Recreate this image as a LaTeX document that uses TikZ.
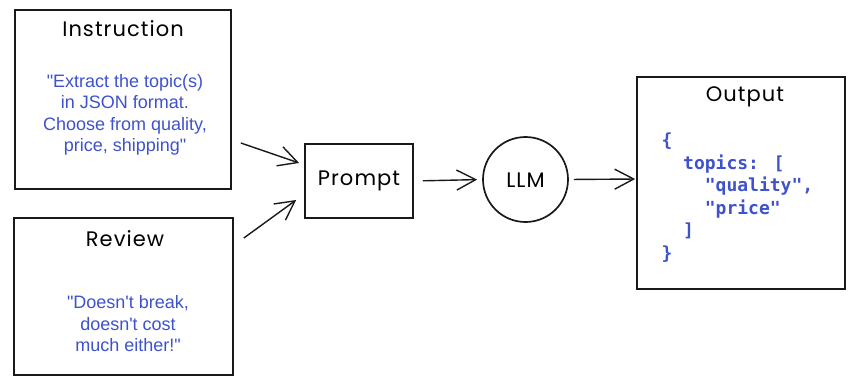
\documentclass[tikz,border=0pt]{standalone}
\usepackage{fontspec}
\setmainfont{Liberation Sans}[Ligatures=TeXOff]
\newfontfamily\sketchfont{Poppins}[LetterSpace=5]
\newfontfamily\codefont{DejaVu Sans Mono}[Ligatures=TeXOff]
\usetikzlibrary{arrows.meta}
\definecolor{textblue}{RGB}{62,82,204}
\definecolor{inkline}{RGB}{25,25,25}
\tikzset{
  box/.style={draw=inkline, line width=1.7pt, inner sep=0pt},
  title/.style={font=\sketchfont\fontsize{21}{23}\selectfont, text=black},
  body/.style={font=\fontsize{18}{21.5}\selectfont, text=textblue, align=center},
  code/.style={font=\codefont\bfseries\fontsize{18}{22.6}\selectfont, text=textblue, align=left},
  arr/.style={draw=inkline, line width=1.4pt, -{Straight Barb[length=19pt,width=20pt,line width=1.4pt]}}
}
\begin{document}
\begin{tikzpicture}[x=1pt,y=-1pt]
  \useasboundingbox (0,0) rectangle (848,378);

  % boxes
  \node[box, minimum width=216pt, minimum height=179pt] (instr) at (123,99.5) {};
  \node[box, minimum width=219pt, minimum height=157pt] (review) at (123.5,296.5) {};
  \node[box, minimum width=108pt, minimum height=74pt] (prompt) at (359,181) {};
  \node[box, circle, minimum size=85pt] (llm) at (525.5,179.5) {};
  \node[box, minimum width=208pt, minimum height=212pt] (output) at (741,183) {};

  % titles
  \node[title] (instrTitle) at (123,29) {Instruction};
  \node[title] (reviewTitle) at (125,239) {Review};
  \node[title] (promptTitle) at (359,181) {Prompt};
  \node[title] (llmTitle) at (525.5,180) {LLM};
  \node[title] (outputTitle) at (745,97) {Output};

  % texts
  \node[body] (instrText) at (125,115) {"Extract the topic(s)\\in JSON format.\\Choose from quality,\\price, shipping"};
  \node[body] (reviewText) at (128,324) {"Doesn't break,\\doesn't cost\\much either!"};
  \node[code, anchor=base west] (outputText) at (658,259.5)
    {\{\\\phantom{xx}topics: [\\\phantom{xxxx}"quality",\\\phantom{xxxx}"price"\\\phantom{xx}]\\\}};

  % connectors
  \draw[arr] ([xshift=9pt,yshift=-43.5pt]instr.east) -- ([xshift=-5pt,yshift=18pt]prompt.west);
  \draw[arr] ([xshift=10pt,yshift=58.5pt]review.east) -- ([xshift=-8pt,yshift=-19pt]prompt.west);
  \draw[arr, shorten <=9pt, shorten >=5pt] (prompt.east) -- (llm.west);
  \draw[arr, shorten <=5pt, shorten >=1pt] (llm.east) -- ([yshift=4pt]output.west);
\end{tikzpicture}
\end{document}
